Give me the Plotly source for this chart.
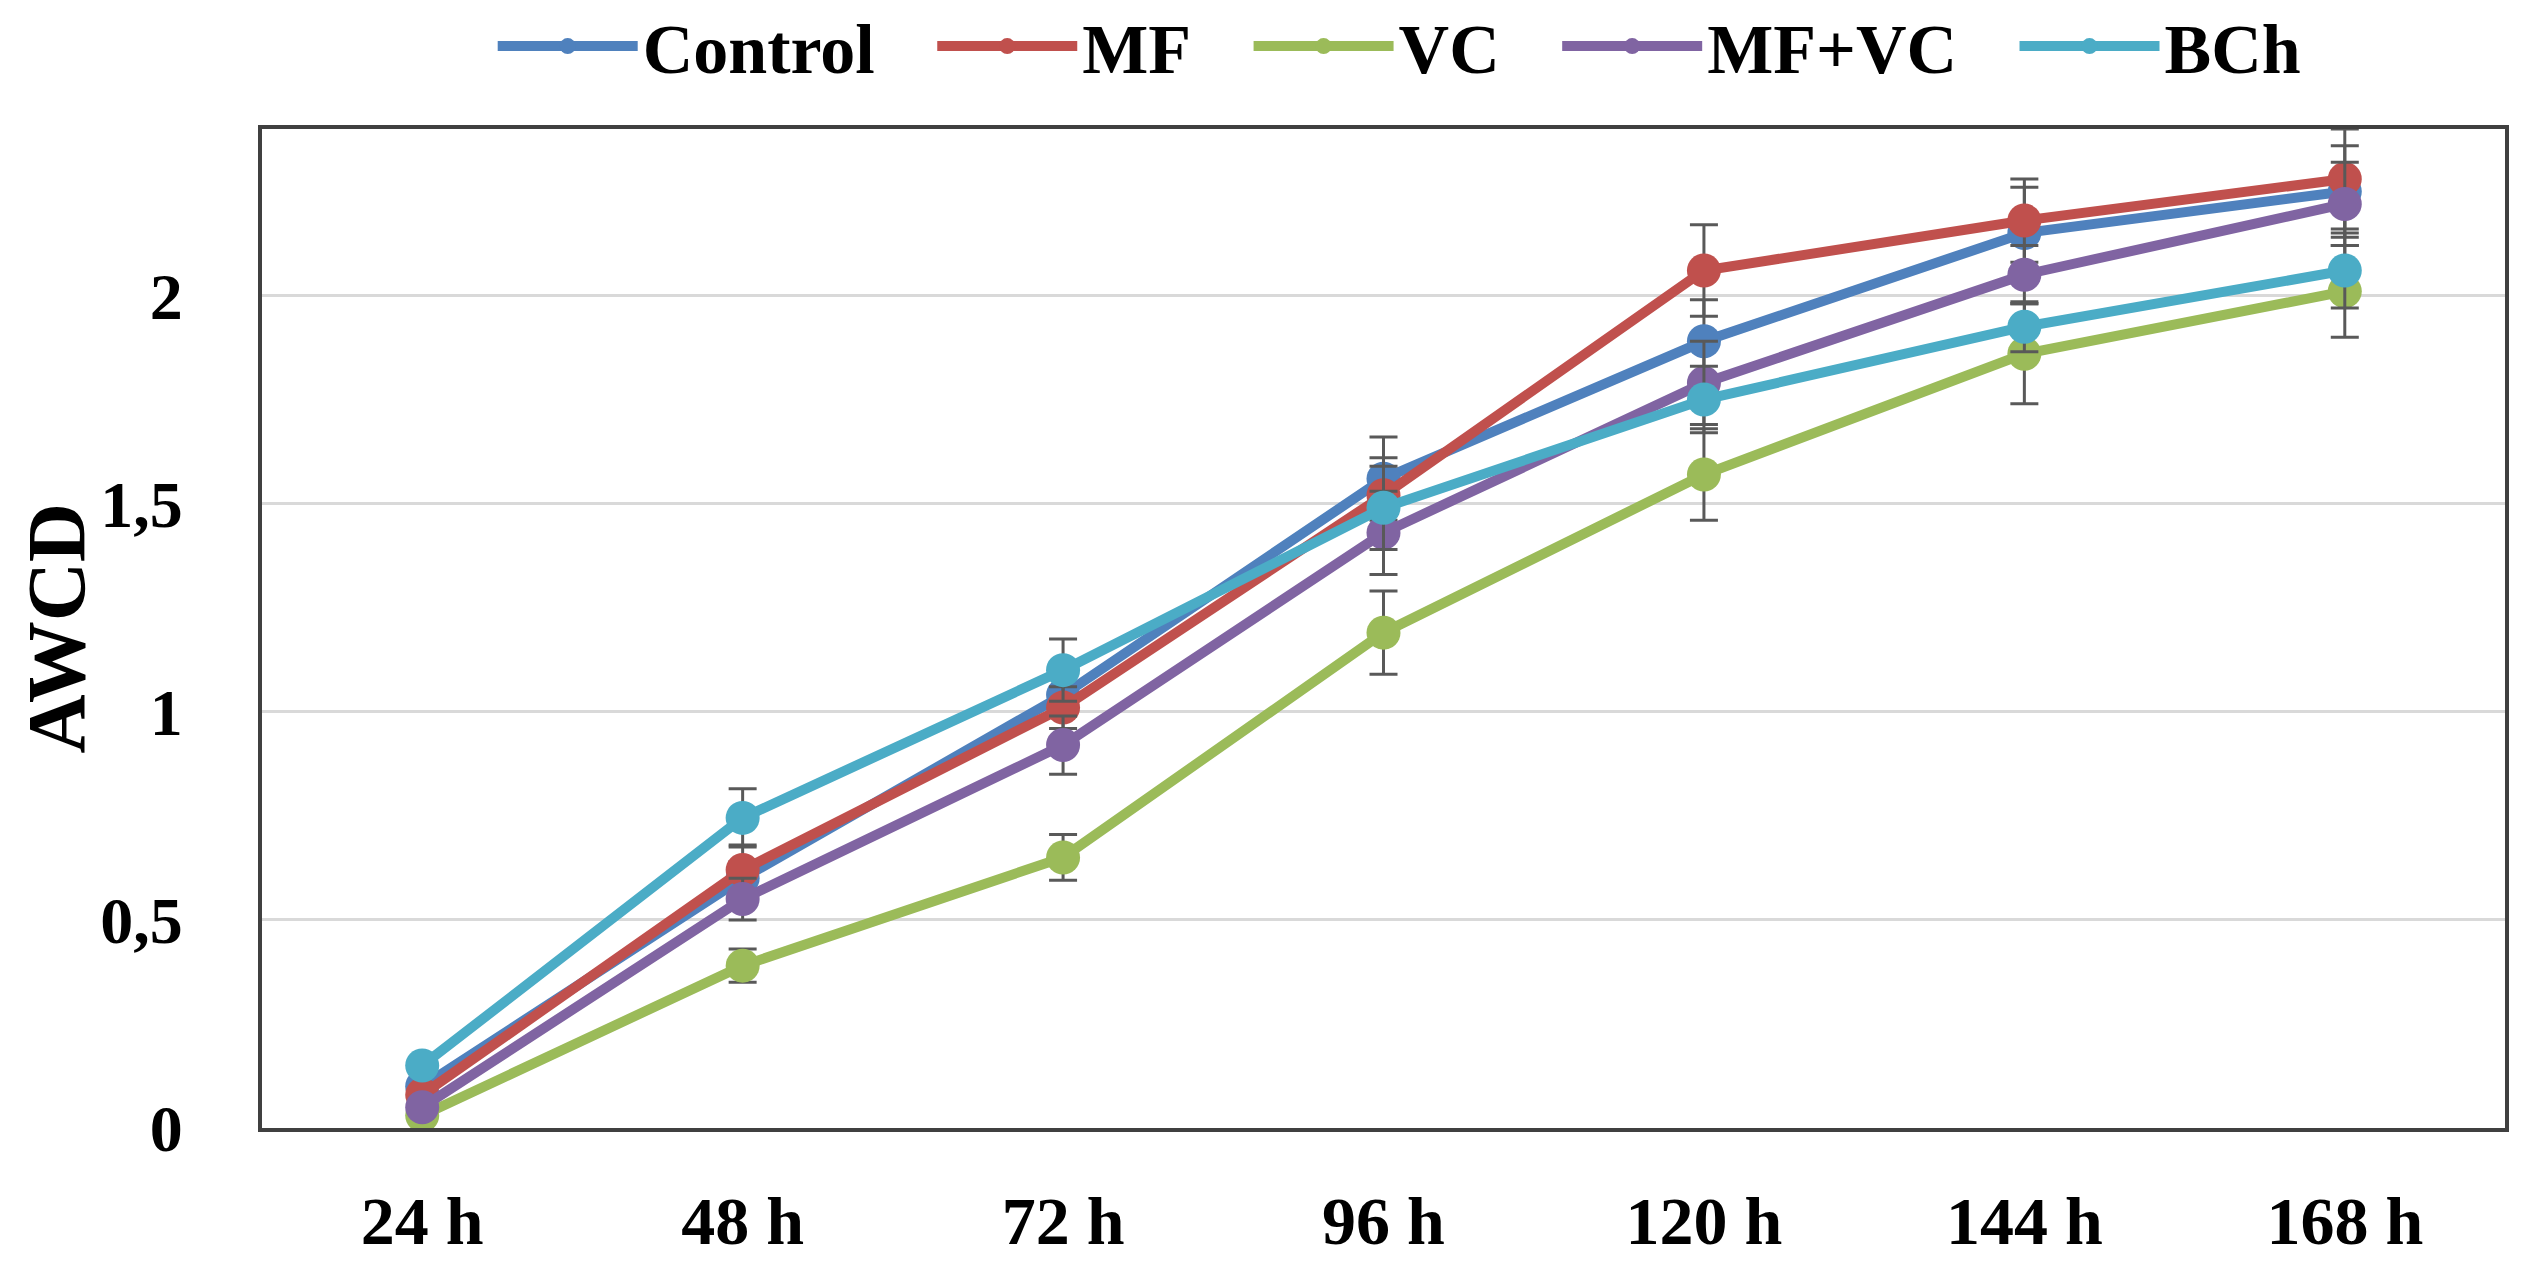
import plotly.graph_objects as go

categories = ["24 h", "48 h", "72 h", "96 h", "120 h", "144 h", "168 h"]

control = [0.10, 0.60, 1.04, 1.56, 1.89, 2.15, 2.25]
control_err = [0.01, 0.04, 0.05, 0.10, 0.10, 0.11, 0.11]

mf = [0.08, 0.62, 1.01, 1.52, 2.06, 2.18, 2.28]
mf_err = [0.01, 0.06, 0.05, 0.09, 0.11, 0.10, 0.12]

vc = [0.03, 0.39, 0.65, 1.19, 1.57, 1.86, 2.01]
vc_err = [0.01, 0.04, 0.055, 0.10, 0.11, 0.12, 0.11]

mfvc = [0.05, 0.55, 0.92, 1.43, 1.79, 2.05, 2.22]
mfvc_err = [0.01, 0.05, 0.07, 0.10, 0.10, 0.07, 0.10]

bch = [0.15, 0.745, 1.10, 1.49, 1.75, 1.925, 2.06]
bch_err = [0.01, 0.07, 0.075, 0.10, 0.08, 0.06, 0.09]

series = [
    ("Control", control, control_err, "#4F81BD"),
    ("MF", mf, mf_err, "#C0504D"),
    ("VC", vc, vc_err, "#9BBB59"),
    ("MF+VC", mfvc, mfvc_err, "#8064A2"),
    ("BCh", bch, bch_err, "#4BACC6"),
]

FONT = "Liberation Serif"
PAD = "\u00a0\u00a0\u00a0"

fig = go.Figure()
for i, (name, vals, errs, color) in enumerate(series):
    label = name + (PAD if i < len(series) - 1 else "")
    fig.add_trace(go.Scatter(
        x=categories, y=vals, name=label, mode="lines+markers",
        line=dict(color=color, width=10),
        marker=dict(color=color, size=34),
        error_y=dict(type="data", array=errs, visible=True,
                     color="#595959", thickness=3, width=14),
    ))

fig.update_layout(
    width=2537, height=1279,
    margin=dict(l=262, r=32, t=129, b=151, autoexpand=False),
    paper_bgcolor="white", plot_bgcolor="white",
    font=dict(family=FONT, size=66, color="black"),
    showlegend=True,
    legend=dict(
        orientation="h", x=0.507, xanchor="center", y=1.083, yanchor="middle",
        font=dict(family=FONT, size=70, color="black", weight="bold"),
        itemwidth=140, tracegroupgap=0, itemsizing="trace",
        bgcolor="rgba(0,0,0,0)",
    ),
    xaxis=dict(
        type="category", range=[-0.5, 6.5],
        showline=True, mirror=True, linecolor="#404040", linewidth=4,
        showgrid=False, ticks="", ticklabelstandoff=30,
        tickfont=dict(family=FONT, size=68, color="black", weight="bold"),
        zeroline=False, automargin=False,
    ),
    yaxis=dict(
        range=[0, 2.4], tickvals=[0, 0.5, 1, 1.5, 2],
        ticktext=["0", "0,5", "1", "1,5", "2"],
        showline=True, mirror=True, linecolor="#404040", linewidth=4,
        showgrid=True, gridcolor="#D9D9D9", gridwidth=3,
        ticks="", ticklabelstandoff=62,
        tickfont=dict(family=FONT, size=66, color="black", weight="bold"),
        zeroline=False, automargin=False,
    ),
    annotations=[dict(
        text="<b>AWCD</b>", xref="paper", yref="paper",
        x=(56 - 262) / 2243, y=0.5, xanchor="center", yanchor="middle",
        textangle=-90, showarrow=False,
        font=dict(family=FONT, size=82, color="black"),
    )],
)

fig.write_html(
    "out.html",
    config={"displayModeBar": False},
    post_script="document.body.style.margin='0';document.body.style.overflow='hidden';",
)
